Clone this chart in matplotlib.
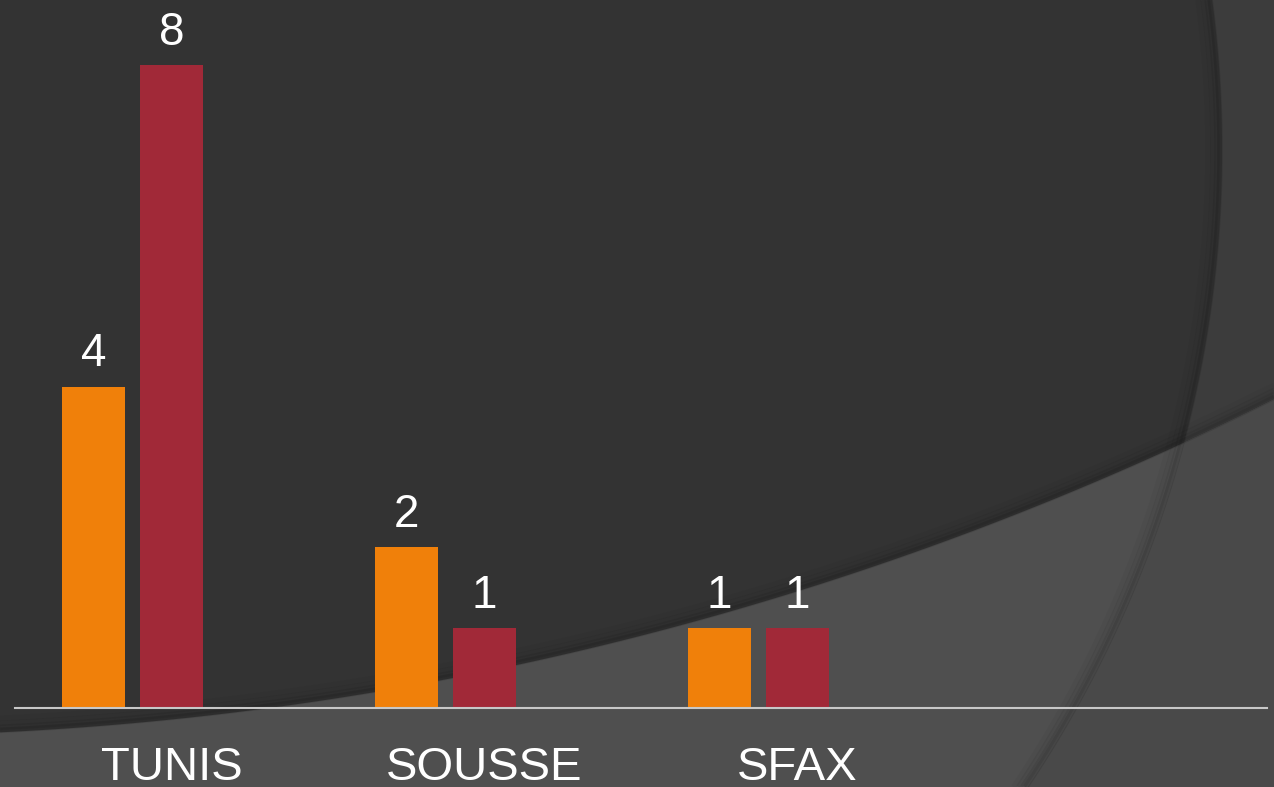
import numpy as np
import matplotlib.pyplot as plt

# ============================================================================
# DONNEES
# ============================================================================

villes = ["TUNIS", "SOUSSE", "SFAX"]
serie_1 = [4, 2, 1]   # barres orange
serie_2 = [8, 1, 1]   # barres rouges
n_slots = 4           # l'axe réserve la place pour 4 catégories

couleur_1 = "#F0800A"
couleur_2 = "#A12938"

W, H = 1274, 787

# ============================================================================
# FIGURE + FOND
# ============================================================================

fig = plt.figure(figsize=(W / 100, H / 100), dpi=100)
fig.patch.set_facecolor("#333333")

bg = fig.add_axes([0, 0, 1, 1], zorder=-1)
bg.set_xlim(0, W)
bg.set_ylim(H, 0)
bg.axis("off")
bg.add_patch(plt.Rectangle((0, 0), W, H, color="#333333"))

# arc vertical à droite
yy = np.linspace(0, H, 600)
cx1, cy1, r1 = 81, 150, 1141
xarc = cx1 + np.sqrt(r1**2 - (yy - cy1) ** 2)
bg.fill(np.r_[xarc, W, W], np.r_[yy, H, 0], color="#3c3c3c", lw=0)

# courbe diagonale en bas
xx = np.linspace(0, W, 600)
cx2, cy2, r2 = -153, -2457, 3193
ycurve = cy2 + np.sqrt(r2**2 - (xx - cx2) ** 2)
bg.fill(np.r_[xx, W, 0], np.r_[ycurve, H, H], color="#4f4f4f", lw=0)

# zone de recouvrement (bas droite)
sel = yy >= np.interp(xarc, xx, ycurve)
x_int = xarc[sel][0]
cs = xx >= x_int
bg.fill(np.r_[xarc[sel], W, xx[cs][::-1]],
        np.r_[yy[sel], H, ycurve[cs][::-1]], color="#494949", lw=0)

# ombres légères le long des bords (côté sombre)
for off, a in [(2, 0.10), (5, 0.07), (9, 0.05), (14, 0.03)]:
    bg.plot(xarc - off, yy, color="black", lw=4, alpha=a, solid_capstyle="butt")
    bg.plot(xx, ycurve - off, color="black", lw=4, alpha=a, solid_capstyle="butt")

# ============================================================================
# GRAPHIQUE
# ============================================================================

left = 15 / W
bottom = (H - 708) / H
ax = fig.add_axes([left, bottom, 1252 / W, (708 - 65) / H])
ax.set_facecolor("none")

x = np.arange(len(villes))
largeur = 0.2
b1 = ax.bar(x - 0.25, serie_1, width=largeur, color=couleur_1)
b2 = ax.bar(x, serie_2, width=largeur, color=couleur_2)

ax.set_xlim(-0.5, n_slots - 0.5)
ax.set_ylim(0, 8)

for bars, vals in [(b1, serie_1), (b2, serie_2)]:
    for rect, v in zip(bars, vals):
        ax.annotate(str(v), xy=(rect.get_x() + rect.get_width() / 2, v),
                    xytext=(0, 14.4), textcoords="offset points",
                    ha="center", va="baseline", color="white",
                    fontsize=33, family="Liberation Sans", annotation_clip=False)

for i, v in enumerate(villes):
    ax.annotate(v, xy=(i, 0), xytext=(0, -51.5), textcoords="offset points",
                ha="center", va="baseline", color="white",
                fontsize=34, family="Liberation Sans", annotation_clip=False)

for s in ["top", "right", "left"]:
    ax.spines[s].set_visible(False)
ax.spines["bottom"].set_color("#c8c8c8")
ax.spines["bottom"].set_linewidth(1.5)
ax.set_xticks([])
ax.set_yticks([])

fig.savefig("out.png", dpi=100, facecolor=fig.get_facecolor())
